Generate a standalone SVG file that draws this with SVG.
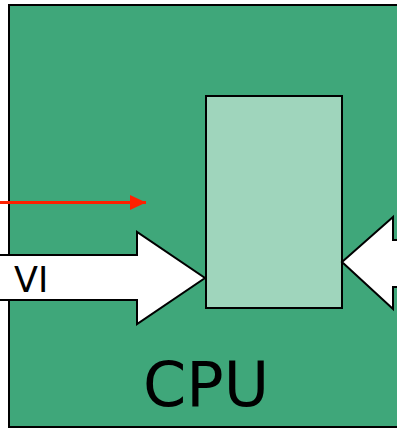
<svg xmlns="http://www.w3.org/2000/svg" width="397" height="429" viewBox="0 0 397 429">
<style>
.lbl{font-family:"DejaVu Sans",Verdana,sans-serif;fill:#000}
.arr{fill:#fff;stroke:#000;stroke-width:2;stroke-linejoin:miter}
</style>
<defs>
<marker id="rh" markerWidth="16" markerHeight="15" refX="16" refY="7.5" orient="auto" markerUnits="userSpaceOnUse">
<path d="M0,0 L16,7.5 L0,15 Z" fill="#ff2000"/>
</marker>
</defs>
<rect width="397" height="429" fill="#fff"/>
<g id="cpu">
<rect x="9" y="5" width="400" height="422" fill="#3fa77a" stroke="#000" stroke-width="2"/>
<text class="lbl" x="143" y="406" font-size="62">CPU</text>
</g>
<g id="unit">
<rect x="206" y="96" width="136" height="212" fill="#9fd5bc" stroke="#000" stroke-width="2"/>
</g>
<g id="connectors">
<line x1="-2" y1="202.5" x2="146" y2="202.5" stroke="#ff2000" stroke-width="3" marker-end="url(#rh)"/>
<g id="vi">
<path class="arr" d="M-5,255 L137,255 L137,232 L205,278 L137,324 L137,300 L-5,300 Z"/>
<text class="lbl" x="14" y="292" font-size="35">VI</text>
</g>
<path class="arr" d="M405,240 L393,240 L393,217 L342,262 L393,309 L393,287 L405,287 Z"/>
</g>
</svg>
